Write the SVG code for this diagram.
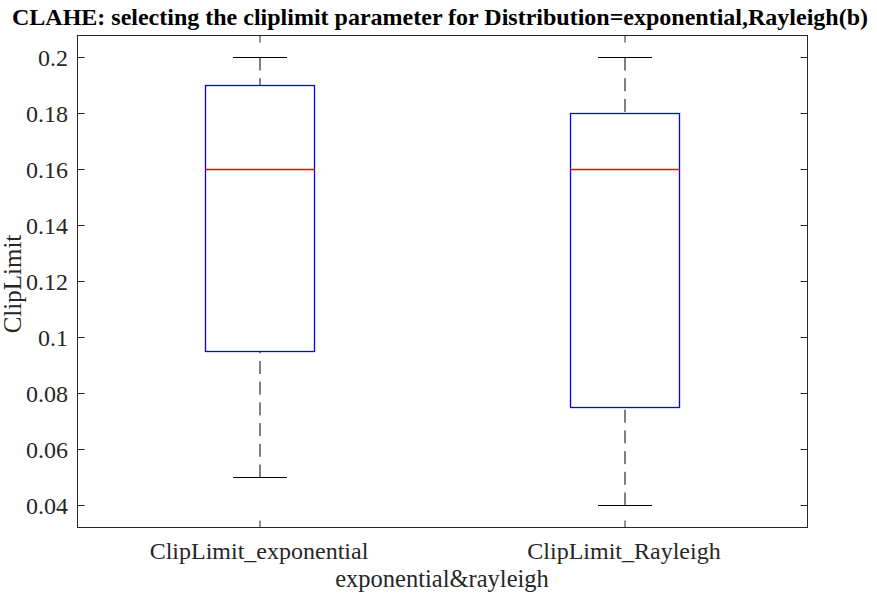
<svg xmlns="http://www.w3.org/2000/svg" width="877" height="597" viewBox="0 0 877 597">
<style>
text{font-family:"Liberation Serif","Times New Roman",serif;fill:#262626}
.tk{font-size:24px}
.ax{stroke:#262626;stroke-width:1;fill:none}
.box{stroke:#0000ff;stroke-width:1.3;fill:none}
.med{stroke:#ff0000;stroke-width:1.3}
.wh{stroke:#000;stroke-width:1;stroke-dasharray:13 7.7}
.cap{stroke:#000;stroke-width:1}
</style>
<rect width="877" height="597" fill="#fff"/>
<text x="440" y="25" text-anchor="middle" style="font-size:24px;font-weight:bold;fill:#000">CLAHE: selecting the cliplimit parameter for Distribution=exponential,Rayleigh(b)</text>
<g id="axes">
<rect class="ax" x="77.5" y="35.5" width="730" height="492"/>
<path class="ax" d="M77.5 57.5h7M77.5 113.5h7M77.5 169.5h7M77.5 225.5h7M77.5 281.5h7M77.5 337.5h7M77.5 393.5h7M77.5 449.5h7M77.5 505.5h7M807.5 57.5h-7M807.5 113.5h-7M807.5 169.5h-7M807.5 225.5h-7M807.5 281.5h-7M807.5 337.5h-7M807.5 393.5h-7M807.5 449.5h-7M807.5 505.5h-7M260 35.5v7M625 35.5v7M260 527.5v-7M625 527.5v-7"/>
<g class="tk" text-anchor="end">
<text x="68" y="66">0.2</text>
<text x="68" y="122">0.18</text>
<text x="68" y="178">0.16</text>
<text x="68" y="234">0.14</text>
<text x="68" y="290">0.12</text>
<text x="68" y="346">0.1</text>
<text x="68" y="402">0.08</text>
<text x="68" y="458">0.06</text>
<text x="68" y="514">0.04</text>
</g>
<text class="tk" x="259" y="559" text-anchor="middle">ClipLimit_exponential</text>
<text class="tk" x="624" y="559" text-anchor="middle">ClipLimit_Rayleigh</text>
<text class="tk" x="442" y="587" text-anchor="middle" style="font-size:24.5px">exponential&amp;rayleigh</text>
<text transform="translate(21 284) rotate(-90)" text-anchor="middle" style="font-size:25px">ClipLimit</text>
</g>
<g id="connectors">
<line class="wh" x1="260" y1="477.5" x2="260" y2="351.5"/>
<line class="wh" x1="260" y1="57.5" x2="260" y2="85.5"/>
<line class="wh" x1="625" y1="505.5" x2="625" y2="407.5"/>
<line class="wh" x1="625" y1="57.5" x2="625" y2="113.5"/>
</g>
<g id="box1">
<line class="cap" x1="233" y1="57.5" x2="287" y2="57.5"/>
<line class="cap" x1="233" y1="477.5" x2="287" y2="477.5"/>
<rect class="box" x="205.5" y="85.5" width="109" height="266"/>
<line class="med" x1="205.5" y1="169.5" x2="314.5" y2="169.5"/>
</g>
<g id="box2">
<line class="cap" x1="598" y1="57.5" x2="652" y2="57.5"/>
<line class="cap" x1="598" y1="505.5" x2="652" y2="505.5"/>
<rect class="box" x="570.5" y="113.5" width="109" height="294"/>
<line class="med" x1="570.5" y1="169.5" x2="679.5" y2="169.5"/>
</g>
</svg>
